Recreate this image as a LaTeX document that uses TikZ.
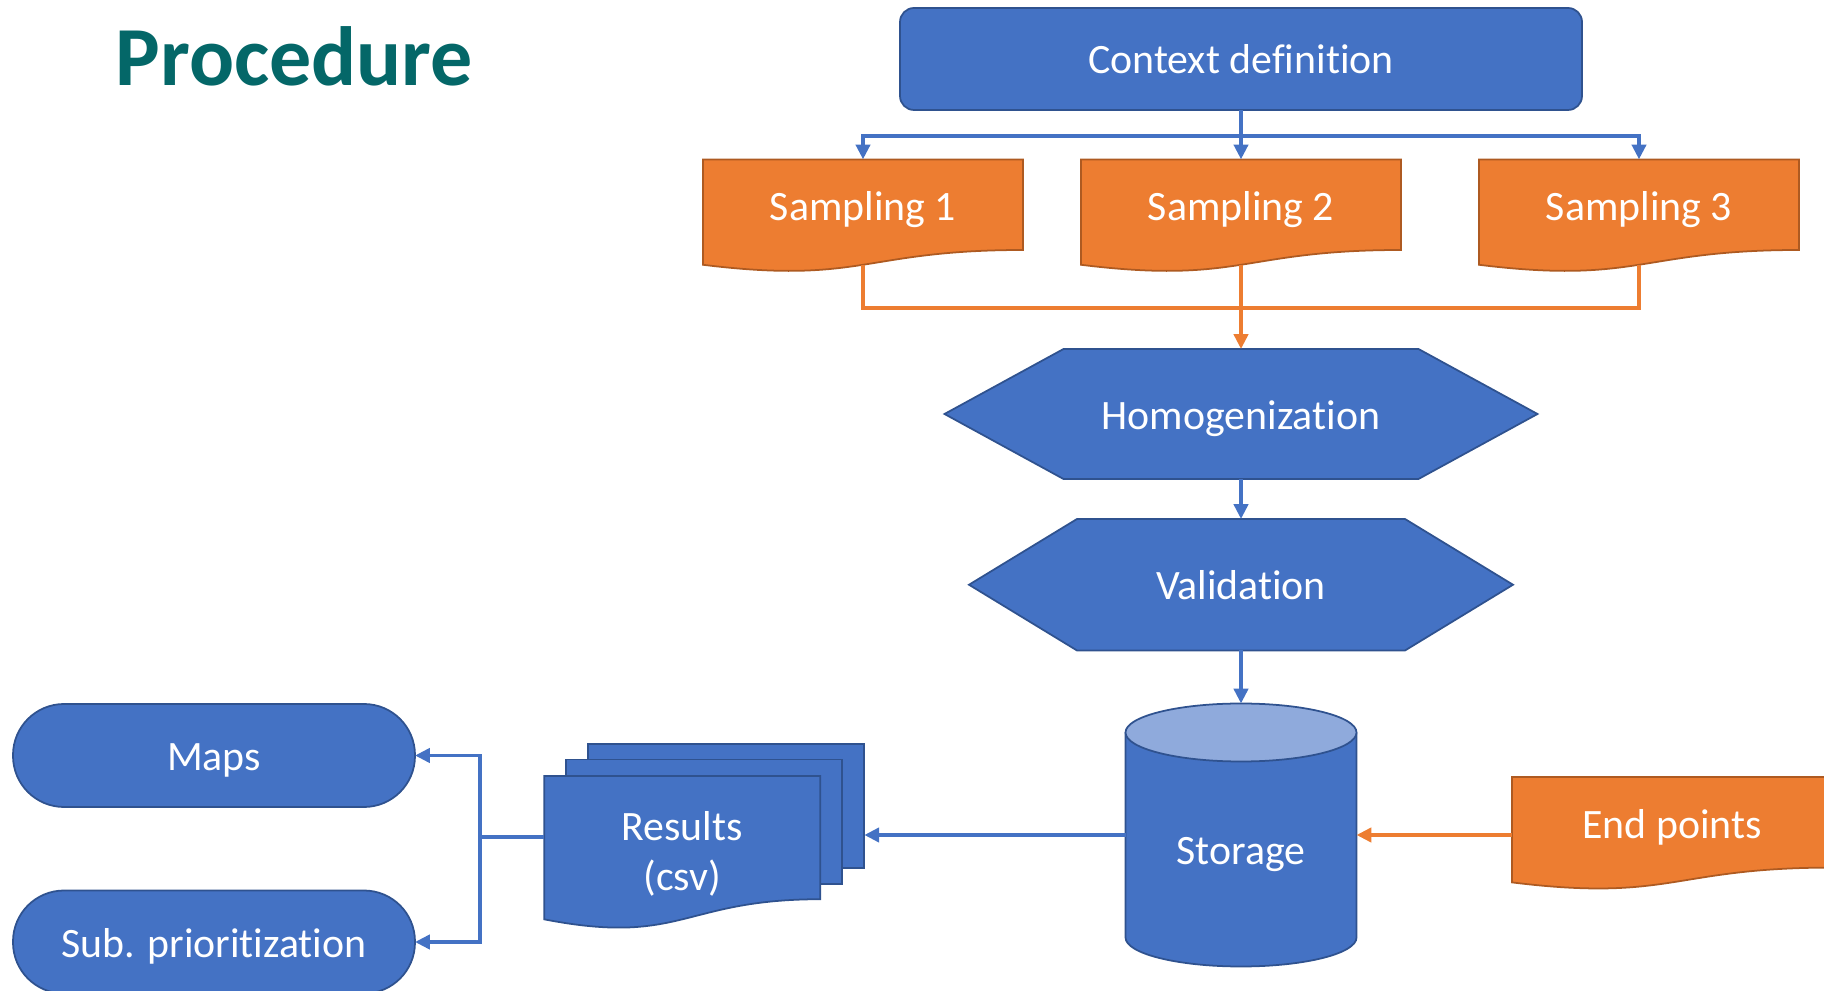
\documentclass[tikz,border=0pt]{standalone}
\usepackage{fontspec}
\setmainfont{Carlito}[Ligatures=NoCommon]
\usepackage{tikz}
\usetikzlibrary{positioning,arrows.meta,calc,backgrounds}
\definecolor{procblue}{RGB}{68,114,196}
\definecolor{procblueline}{RGB}{47,82,143}
\definecolor{proclight}{RGB}{143,170,220}
\definecolor{procorange}{RGB}{237,125,49}
\definecolor{procorangeline}{RGB}{174,90,33}
\definecolor{procteal}{RGB}{4,103,104}

\newcommand{\docshape}[2]{%
  \path[#2] let \p1=(#1.north west), \p2=(#1.south east) in
    (\x1,\y1) -- (\x2,\y1) -- (\x2,{\y1-0.8596*(\y1-\y2)})
    .. controls ({0.5*(\x1+\x2)},{\y1-0.8596*(\y1-\y2)}) and ({0.5*(\x1+\x2)},{\y1-1.187*(\y1-\y2)}) .. (\x1,\y2) -- cycle;}
\newcommand{\hexshape}[2]{%
  \path[bshape] (#1.west) -- ([xshift=#2]#1.north west) -- ([xshift=-#2]#1.north east)
    -- (#1.east) -- ([xshift=-#2]#1.south east) -- ([xshift=#2]#1.south west) -- cycle;}
\newcommand{\cylshape}[3]{%
  \path[bshape] ([yshift=-#3]#1.north east) -- ([yshift=#3]#1.south east)
    arc[start angle=0, end angle=-180, x radius=#2, y radius=#3] -- ([yshift=-#3]#1.north west);
  \path[bshape, fill=proclight] ([yshift=-#3]#1.north) ellipse[x radius=#2, y radius=#3];}

\begin{document}
\begin{tikzpicture}[
  bshape/.style={fill=procblue, draw=procblueline, line width=0.5pt},
  oshape/.style={fill=procorange, draw=procorangeline, line width=0.5pt},
  txtbox/.style={inner sep=0pt, outer sep=0pt, text=white, align=center, text height=11.3pt, text depth=2.76pt, font=\fontsize{11.9}{14.2}\selectfont},
  ctxbox/.style={txtbox, bshape, rounded corners=0.14cm, minimum width=6.82cm, minimum height=1.02cm},
  term/.style={txtbox, bshape, rounded corners=0.51cm, minimum width=4.02cm, minimum height=1.03cm},
  doc/.style={txtbox, text depth=6.4pt, minimum width=3.2cm, minimum height=1.054cm},
  title/.style={anchor=base west, inner sep=0pt, text=procteal, font=\bfseries\fontsize{23.9}{28}\selectfont},
  bline/.style={draw=procblue, line width=1.1pt},
  oline/.style={draw=procorange, line width=1.1pt},
  barrow/.style={bline, -{Triangle[length=4.2pt,width=4pt]}},
  oarrow/.style={oline, -{Triangle[length=4.2pt,width=4pt]}}
]
\useasboundingbox (0,0) rectangle (18.24,-9.91);
\node[title] (title) at (1.15,-0.86) {Procedure};
\node[ctxbox] (ctx) at (12.41,-0.59) {Context definition};
\node[doc, below=0.494cm of ctx] (s2) {Sampling 2};
\node[doc, left=0.58cm of s2] (s1) {Sampling 1};
\node[doc, right=0.78cm of s2] (s3) {Sampling 3};
\node[txtbox, minimum width=5.93cm, minimum height=1.30cm, below=0.842cm of s2] (hom) {Homogenization};
\node[txtbox, minimum width=5.44cm, minimum height=1.315cm, below=0.40cm of hom] (val) {Validation};
\node[txtbox, minimum width=2.31cm, minimum height=2.63cm, text height=19.6pt, text depth=2.8pt, below=0.53cm of val] (stor) {Storage};
\node[doc] (endp) at (16.72,-8.297) {End points};
\node[txtbox, text height=, text depth=, minimum width=2.76cm, minimum height=1.433cm] (res) at (6.823,-8.477) {\rule{0pt}{0.98em}Results\\(csv)};
\node[term] (maps) at (2.14,-7.555) {Maps};
\node[term] (sub) at (2.14,-9.42) {Sub. prioritization};
\begin{scope}[on background layer]
\docshape{s1}{oshape}
\docshape{s2}{oshape}
\docshape{s3}{oshape}
\docshape{endp}{oshape}
\hexshape{hom}{1.19cm}
\hexshape{val}{1.08cm}
\cylshape{stor}{1.155cm}{0.29cm}
\path[bshape] ([shift={(0.44,0.32)}]res.north west) rectangle ([shift={(0.44,-0.92)}]res.north east) coordinate (resback);
\path[bshape] ([shift={(0.22,0.165)}]res.north west) rectangle ([shift={(0.22,-1.08)}]res.north east);
\docshape{res}{bshape}
\end{scope}
\draw[bline] (ctx.south) -- ++(0,-0.26) coordinate (split);
\draw[barrow] (split) -| (s1.north);
\draw[barrow] (split) -- (s2.north);
\draw[barrow] (split) -| (s3.north);
\draw[oline] (s1.south) -- ++(0,-0.435) -| (s3.south);
\draw[oarrow] (s2.south) -- (hom.north);
\draw[barrow] (hom) -- (val);
\draw[barrow] (val) -- (stor);
\draw[oarrow] (endp.west |- stor.east) -- (stor.east);
\draw[barrow] (stor.west) -- (stor.west -| resback);
\draw[bline] ([yshift=0.11cm]res.west) -- ++(-0.644,0) coordinate (fork);
\draw[barrow] (fork) |- (maps.east);
\draw[barrow] (fork) |- (sub.east);
\end{tikzpicture}
\end{document}
